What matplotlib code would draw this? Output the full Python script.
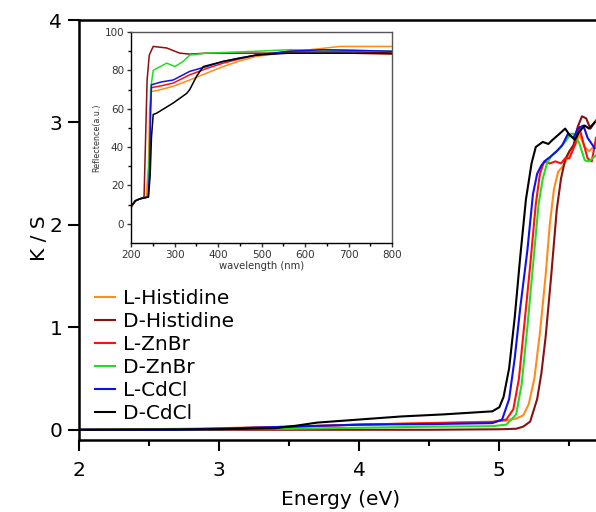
import numpy as np
import matplotlib.pyplot as plt

plt.rcParams['font.family'] = ['DejaVu Sans']

names = ["L-Histidine", "D-Histidine", "L-ZnBr", "D-ZnBr", "L-CdCl", "D-CdCl"]
colors = ["#ff8c1a", "#8b1010", "#ff1010", "#22dd22", "#1010ee", "#000000"]

# K/S vs energy (eV)
e_lhis = [2.0, 2.8, 3.5, 4.0, 4.5, 4.95, 5.05, 5.12, 5.17, 5.21, 5.25, 5.29, 5.33, 5.36, 5.39, 5.42, 5.46, 5.48, 5.51, 5.55, 5.57, 5.61, 5.64, 5.69]
k_lhis = [0.0, 0.01, 0.03, 0.05, 0.065, 0.08, 0.09, 0.11, 0.14, 0.25, 0.5, 0.95, 1.5, 2.0, 2.35, 2.52, 2.58, 2.64, 2.73, 2.80, 2.89, 2.76, 2.72, 2.78]

e_dhis = [2.0, 3.0, 4.0, 4.5, 5.0, 5.12, 5.17, 5.22, 5.27, 5.30, 5.33, 5.37, 5.41, 5.44, 5.47, 5.50, 5.53, 5.56, 5.59, 5.62, 5.65, 5.69]
k_dhis = [0.0, 0.0, 0.0, 0.0, 0.005, 0.01, 0.03, 0.08, 0.3, 0.55, 0.9, 1.5, 2.15, 2.45, 2.64, 2.72, 2.78, 2.96, 3.06, 3.04, 2.94, 3.02]

e_lzn = [2.0, 3.0, 3.5, 4.0, 4.5, 4.95, 5.05, 5.10, 5.14, 5.18, 5.22, 5.26, 5.29, 5.32, 5.36, 5.40, 5.44, 5.47, 5.50, 5.54, 5.57, 5.60, 5.63, 5.66, 5.69]
k_lzn = [0.0, 0.01, 0.03, 0.05, 0.065, 0.075, 0.1, 0.2, 0.5, 1.05, 1.6, 2.2, 2.5, 2.62, 2.6, 2.62, 2.6, 2.65, 2.65, 2.78, 2.96, 2.80, 2.65, 2.62, 2.85]

e_dzn = [2.0, 3.5, 4.0, 4.5, 4.95, 5.05, 5.12, 5.16, 5.20, 5.24, 5.28, 5.31, 5.34, 5.37, 5.41, 5.44, 5.48, 5.51, 5.53, 5.57, 5.61, 5.64, 5.69]
k_dzn = [0.0, 0.01, 0.02, 0.03, 0.035, 0.05, 0.15, 0.45, 1.0, 1.6, 2.2, 2.45, 2.6, 2.67, 2.72, 2.76, 2.83, 2.89, 2.89, 2.80, 2.63, 2.62, 2.68]

e_lcd = [2.0, 2.7, 3.5, 4.0, 4.5, 4.95, 5.02, 5.07, 5.11, 5.15, 5.20, 5.24, 5.27, 5.30, 5.33, 5.36, 5.41, 5.45, 5.49, 5.53, 5.56, 5.60, 5.63, 5.68]
k_lcd = [0.0, 0.0, 0.03, 0.05, 0.055, 0.065, 0.1, 0.3, 0.7, 1.2, 1.75, 2.3, 2.5, 2.58, 2.63, 2.66, 2.72, 2.78, 2.89, 2.85, 2.94, 2.97, 2.85, 2.75]

e_dcd = [2.0, 3.0, 3.4, 3.55, 3.7, 4.0, 4.3, 4.6, 4.95, 5.0, 5.03, 5.07, 5.11, 5.15, 5.19, 5.23, 5.26, 5.31, 5.35, 5.38, 5.43, 5.47, 5.50, 5.54, 5.57, 5.61, 5.64, 5.68]
k_dcd = [0.0, 0.005, 0.015, 0.04, 0.07, 0.10, 0.13, 0.15, 0.18, 0.22, 0.32, 0.6, 1.1, 1.7, 2.25, 2.6, 2.76, 2.81, 2.79, 2.83, 2.89, 2.94, 2.88, 2.83, 2.91, 2.97, 2.94, 3.0]

# inset: reflectance vs wavelength (nm)
w_lhis = [200, 210, 220, 235, 240, 243, 247, 260, 297, 335, 374, 412, 450, 488, 565, 620, 680, 750, 800]
r_lhis = [8, 12, 13, 14, 30, 60, 69, 69.5, 71.7, 75, 78.6, 82, 85, 87.3, 89.6, 91, 92.5, 92.5, 92.5]

w_dhis = [200, 210, 220, 230, 233, 237, 242, 251, 282, 312, 335, 374, 450, 500, 600, 700, 800]
r_dhis = [9, 12, 13, 14, 40, 75, 88, 92.5, 91.7, 89, 88.5, 89, 89, 89, 89, 89, 88.5]

w_lzn = [200, 210, 220, 238, 242, 245, 247, 270, 297, 335, 374, 412, 450, 488, 565, 700, 800]
r_lzn = [9, 12, 13, 14, 30, 60, 71, 72, 73.4, 77.7, 81, 83.8, 86, 88, 90, 90, 89]

w_dzn = [200, 210, 220, 238, 242, 245, 251, 282, 301, 320, 335, 374, 488, 565, 700, 800]
r_dzn = [9, 12, 13, 14, 35, 70, 80, 83.8, 82, 84.7, 88, 89, 90, 90.8, 90.5, 90]

w_lcd = [200, 210, 220, 240, 243, 245, 247, 270, 297, 335, 374, 412, 450, 488, 565, 641, 800]
r_lcd = [9, 12, 13, 14, 30, 60, 72.5, 74, 75, 79.5, 82, 84.7, 86.5, 88, 90, 90.8, 90]

w_dcd = [200, 210, 220, 240, 244, 247, 251, 259, 297, 328, 335, 351, 366, 412, 488, 565, 800]
r_dcd = [9, 12, 13, 14, 25, 45, 57, 57.7, 63, 68, 70, 77, 82, 84.7, 88, 89, 89]

energies = [e_lhis, e_dhis, e_lzn, e_dzn, e_lcd, e_dcd]
ks = [k_lhis, k_dhis, k_lzn, k_dzn, k_lcd, k_dcd]
waves = [w_lhis, w_dhis, w_lzn, w_dzn, w_lcd, w_dcd]
refl = [r_lhis, r_dhis, r_lzn, r_dzn, r_lcd, r_dcd]

fig = plt.figure(figsize=(5.96, 5.12), dpi=100)
ax = fig.add_axes([0.1326, 0.1406, 0.8674, 0.8203])

for name, c, e, k in zip(names, colors, energies, ks):
    ax.plot(e, k, color=c, lw=1.5, label=name)

ax.set_xlim(2, 5.69)
ax.set_ylim(-0.1, 4)
ax.set_xticks([2, 3, 4, 5])
ax.set_xticks([2.5, 3.5, 4.5, 5.5], minor=True)
ax.set_yticks([0, 1, 2, 3, 4])
ax.spines['right'].set_visible(False)
for s in ['left', 'bottom', 'top']:
    ax.spines[s].set_linewidth(1.8)
ax.tick_params(axis='both', which='major', direction='out', length=8, width=1.5, labelsize=14.5)
ax.tick_params(axis='x', which='major', pad=7)
ax.tick_params(axis='y', which='major', pad=4)
ax.tick_params(axis='x', which='minor', direction='out', length=4, width=1.5)
ax.tick_params(axis='y', which='minor', left=False)
ax.set_xlabel("Energy (eV)", fontsize=14.5)
ax.xaxis.set_label_coords(0.505, -0.12)
ax.set_ylabel("K / S", fontsize=14.5)
ax.yaxis.set_label_coords(-0.058, 0.48)

leg = ax.legend(loc='lower left', bbox_to_anchor=(0.03, 0.04), frameon=False, fontsize=14.5,
                handlelength=1.0, handletextpad=0.4, labelspacing=0.2, borderaxespad=0,
                borderpad=0)

# inset
ins = fig.add_axes([0.2198, 0.5254, 0.438, 0.412])
for c, w, r in zip(colors, waves, refl):
    ins.plot(w, r, color=c, lw=1.1)
ins.set_xlim(200, 800)
ins.set_ylim(-10, 100)
ins.set_xticks(np.arange(200, 801, 100))
ins.set_xticks(np.arange(250, 800, 100), minor=True)
ins.set_yticks(np.arange(0, 101, 20))
ins.set_yticks(np.arange(10, 100, 20), minor=True)
ins.tick_params(axis='both', which='major', direction='out', length=3, width=1, labelsize=7.5, pad=2,
                colors='#333333')
ins.tick_params(axis='both', which='minor', direction='out', length=2, width=1)
for s in ins.spines.values():
    s.set_linewidth(1.0)
ins.spines['top'].set_color('#555555')
ins.spines['right'].set_color('#555555')
ins.set_xlabel("wavelength (nm)", fontsize=7.2, labelpad=1, color='#333333')
ins.set_ylabel("Reflectence(a.u.)", fontsize=5.8, labelpad=2, color='#333333')

fig.savefig("out.png", dpi=100)
